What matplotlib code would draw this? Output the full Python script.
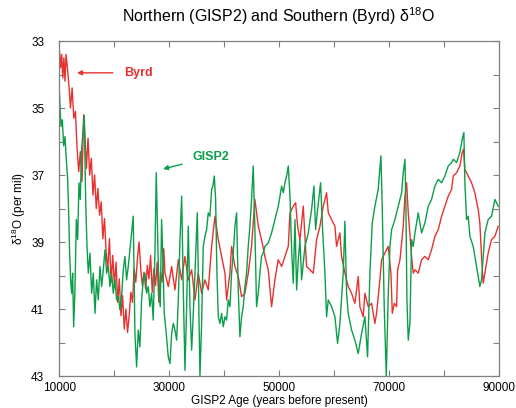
from matplotlib import pyplot as plt
import numpy as np

# GISP2 age (years before present) and d18O (per mil)
byrd_age = [10000, 10200, 10400, 10600, 10800, 11000, 11200, 11500, 11800, 12000,
            12300, 12600, 12900, 13200, 13500, 13800, 14100, 14400, 14600, 14900,
            15200, 15500, 15800, 16100, 16400, 16700, 17000, 17300, 17600, 17900,
            18200, 18500, 18800, 19100, 19400, 19700, 20000, 20300, 20600, 20900,
            21200, 21500, 21800, 22100, 22400, 22700, 23000, 23300, 23600, 23900,
            24200, 24500, 24800, 25100, 25400, 25700, 26000, 26300, 26600, 26900,
            27200, 27500, 27800, 28100, 28400, 28700, 29000, 29222, 29830, 30436,
            31040, 31650, 32257, 32864, 33470, 34080, 34685, 35290, 35900, 36500,
            37110, 37720, 38330, 38930, 39540, 40150, 40450, 41060, 41360, 41970,
            42580, 43180, 43790, 44400, 45000, 45610, 46220, 46820, 47430, 48040,
            48650, 49250, 49860, 50480, 51085, 51690, 52000, 52600, 53030, 53390,
            53820, 54420, 55030, 55640, 56245, 56850, 57460, 58065, 58670, 58980,
            59580, 60190, 60490, 61100, 61400, 62010, 62620, 63225, 63830, 64440,
            64740, 65350, 65650, 66260, 66870, 67470, 67780, 68380, 68690, 69295,
            69900, 70400, 70640, 71005, 71430, 71610, 72040, 72640, 72950, 73250,
            73555, 74160, 74465, 74770, 75375, 75980, 76590, 77200, 77800, 78410,
            79020, 79625, 80230, 80840, 81450, 81750, 82360, 82960, 83390, 83630,
            83870, 84480, 85090, 85690, 86300, 86600, 86910, 87210, 87520, 88120,
            88730, 89340, 89940]
byrd_d18o = [33.3, 33.8, 33.4, 34.1, 33.5, 34.2, 33.4, 33.9, 34.5, 35.0,
             34.4, 35.3, 35.1, 36.2, 36.9, 36.3, 37.2, 35.2, 35.7, 36.8,
             35.9, 37.0, 36.5, 37.6, 37.0, 38.0, 37.4, 38.2, 37.8, 38.9,
             38.3, 39.3, 39.8, 38.9, 40.2, 39.4, 40.3, 39.6, 40.8, 40.1,
             41.2, 40.6, 41.6, 41.0, 41.7, 41.2, 40.5, 40.8, 39.8, 40.2,
             39.5, 39.0, 39.8, 40.3, 39.9, 40.4, 39.7, 40.1, 39.4, 40.5,
             39.8, 40.3, 39.6, 40.8, 39.9, 40.2, 39.2, 39.93, 40.33, 39.73,
             40.43, 39.53, 40.13, 39.43, 40.13, 39.83, 40.73, 39.93, 40.53, 40.13,
             40.43, 39.13, 38.23, 38.93, 39.43, 39.93, 40.73, 39.93, 39.13, 39.73,
             40.03, 40.63, 40.53, 39.93, 39.13, 37.73, 38.53, 38.93, 39.43, 39.83,
             40.93, 40.13, 39.53, 39.73, 39.43, 39.13, 38.13, 37.93, 37.83, 38.53,
             38.93, 37.93, 39.73, 39.83, 39.93, 38.93, 38.53, 37.93, 37.53, 38.13,
             38.33, 38.53, 39.13, 38.73, 39.43, 39.93, 40.33, 40.53, 40.83, 40.03,
             40.93, 41.23, 40.53, 40.93, 40.83, 41.43, 41.13, 40.13, 39.53, 39.33,
             39.13, 39.93, 41.13, 40.83, 40.93, 39.83, 39.53, 38.53, 37.63, 37.23,
             38.13, 39.43, 39.93, 39.83, 39.93, 39.53, 39.43, 39.53, 39.23, 38.83,
             38.63, 38.23, 37.93, 37.63, 37.43, 37.03, 36.93, 36.73, 36.33, 36.23,
             36.83, 37.03, 37.23, 37.53, 38.03, 38.43, 39.43, 40.23, 39.93, 39.33,
             38.93, 38.83, 38.53]

gisp2_age = [10000, 10090, 10270, 10515, 10760, 11000, 11245, 11490, 11670, 11850,
             12030, 12215, 12400, 12580, 12820, 13065, 13310, 13550, 13790, 14035,
             14280, 14520, 14765, 15010, 15250, 15555, 15860, 16160, 16465, 16770,
             17070, 17375, 17680, 17980, 18285, 18590, 18890, 19195, 19500, 19800,
             20105, 20410, 20710, 21015, 21320, 21620, 21925, 22230, 22530, 22835,
             23140, 23440, 23745, 24050, 24355, 24660, 24960, 25265, 25570, 25870,
             26175, 26480, 26780, 27085, 27390, 27630, 27875, 28120, 28360, 28605,
             28850, 29090, 29455, 29820, 30130, 30440, 30740, 31045, 31350, 31650,
             31955, 32260, 32560, 32865, 33170, 33470, 33775, 34080, 34380, 34685,
             35110, 35350, 35595, 35900, 36200, 36505, 36810, 37110, 37415, 37720,
             37960, 38205, 38450, 38690, 38935, 39240, 39540, 39845, 40150, 40450,
             40755, 41060, 41360, 41665, 41970, 42270, 42575, 42880, 43180, 43485,
             43790, 44090, 44395, 44700, 45000, 45305, 45610, 45910, 46215, 46520,
             46820, 47125, 47430, 48040, 48645, 49250, 49870, 50480, 50780, 51085,
             51390, 51690, 52000, 52300, 52600, 52905, 53210, 53515, 53820, 54120,
             54730, 55335, 55940, 56365, 56670, 57035, 57580, 57945, 58370, 58670,
             58975, 59585, 60190, 60675, 61100, 61705, 62010, 62315, 62615, 63225,
             63830, 64440, 65045, 65650, 66140, 66565, 66990, 67475, 68080, 68570,
             68810, 69175, 69550, 69913, 70216, 70520, 71126, 71733, 72340, 72640,
             72950, 73130, 73310, 73555, 73860, 74160, 74465, 74770, 75375, 75980,
             76590, 77200, 77800, 78410, 79020, 79625, 80230, 80840, 81450, 81750,
             82360, 82960, 83390, 83690, 83870, 84180, 84480, 84785, 85390, 86000,
             86605, 86910, 87210, 87520, 88120, 88730, 89340, 89940]
gisp2_d18o = [34.55, 34.95, 35.55, 35.35, 36.13, 35.85, 36.55, 37.13, 38.13, 39.33,
              40.13, 40.53, 39.93, 41.53, 40.43, 38.33, 38.93, 37.23, 37.73, 36.23,
              35.73, 35.23, 37.73, 39.13, 39.93, 39.33, 40.53, 39.93, 41.13, 40.13,
              40.73, 39.73, 40.33, 39.83, 39.23, 39.93, 39.73, 40.33, 39.93, 40.53,
              40.13, 40.73, 40.63, 41.03, 40.63, 39.83, 39.43, 40.13, 39.73, 39.23,
              38.73, 38.23, 41.73, 42.73, 41.63, 42.13, 40.73, 40.13, 39.93, 40.53,
              40.33, 40.93, 40.53, 41.33, 39.33, 36.93, 38.73, 40.53, 40.93, 38.33,
              39.53, 41.13, 41.73, 42.43, 42.63, 41.73, 41.43, 41.63, 41.93, 40.73,
              38.93, 37.63, 40.43, 42.83, 40.93, 38.53, 40.93, 42.23, 41.13, 39.93,
              38.13, 40.53, 43.0, 41.43, 39.13, 38.83, 38.63, 38.13, 38.23, 37.43,
              37.33, 37.03, 37.73, 39.93, 41.23, 41.43, 41.13, 41.53, 41.23, 41.33,
              40.73, 40.93, 39.93, 39.33, 38.53, 38.13, 40.43, 41.83, 41.23, 40.93,
              40.33, 39.93, 39.13, 38.53, 37.73, 36.73, 38.63, 40.93, 40.53, 39.93,
              39.43, 39.33, 39.13, 39.03, 38.73, 38.33, 37.93, 37.33, 37.53, 37.23,
              37.03, 36.73, 37.63, 39.23, 40.23, 38.33, 40.43, 39.53, 38.93, 40.13,
              39.13, 38.73, 38.03, 37.33, 38.63, 38.03, 37.23, 38.63, 39.93, 41.23,
              40.73, 40.93, 41.23, 42.03, 41.43, 39.93, 38.38, 40.53, 41.13, 41.63,
              41.93, 42.33, 41.73, 41.23, 42.43, 39.93, 38.43, 37.93, 37.43, 36.43,
              37.93, 40.93, 43.0, 40.53, 39.13, 38.63, 38.33, 37.93, 37.53, 36.93,
              36.53, 37.93, 40.73, 41.93, 41.43, 38.93, 39.13, 38.73, 38.13, 38.73,
              38.43, 37.93, 37.73, 37.33, 37.13, 37.23, 37.03, 36.73, 36.63, 36.53,
              36.63, 36.33, 35.93, 35.73, 37.23, 38.33, 38.23, 38.83, 39.13, 39.73,
              40.33, 40.13, 39.43, 38.73, 38.33, 38.23, 37.73, 37.93]

red = '#e8312f'
green = '#0b9e4a'
grey = '#7f7f7f'

plt.rcParams['font.family'] = ['Liberation Sans', 'DejaVu Sans']
plt.rcParams['mathtext.default'] = 'regular'

fig = plt.figure(figsize=(5.16, 4.08), dpi=100)
ax = fig.add_axes([0.1153, 0.0784, 0.8508, 0.8211])

ax.plot(byrd_age, byrd_d18o, color=red, lw=1.0)
ax.plot(gisp2_age, gisp2_d18o, color=green, lw=1.0)

ax.set_xlim(10000, 90000)
ax.set_ylim(43, 33)

xt = np.arange(10000, 90001, 10000)
ax.set_xticks(xt)
ax.set_xticklabels([str(v) if (v // 10000) % 2 == 1 else '' for v in xt])
yt = np.arange(33, 44, 1)
ax.set_yticks(yt)
ax.set_yticklabels([str(v) if v % 2 == 1 else '' for v in yt])
ax.tick_params(direction='in', length=4, width=0.8, color=grey, labelsize=8.5,
               top=True, right=True)
ax.tick_params(axis='y', pad=11)
ax.tick_params(axis='x', pad=4)
for s in ax.spines.values():
    s.set_color(grey)
    s.set_linewidth(0.9)

ax.set_title('Northern (GISP2) and Southern (Byrd) δ$^{18}$O', fontsize=11.5, pad=14)
ax.set_xlabel('GISP2 Age (years before present)', fontsize=8.5, labelpad=1)
ax.set_ylabel('δ$^{18}$O (per mil)', fontsize=8.5, labelpad=2)

ax.annotate('Byrd', xy=(13190, 33.95), xytext=(21750, 33.95), color=red,
            fontsize=9, fontweight='bold', va='center', ha='left',
            arrowprops=dict(arrowstyle='-|>', color=red, lw=1.0,
                            shrinkA=6, shrinkB=0, mutation_scale=7))
ax.annotate('GISP2', xy=(28860, 36.82), xytext=(34320, 36.46), color=green,
            fontsize=9, fontweight='bold', va='center', ha='left',
            arrowprops=dict(arrowstyle='-|>', color=green, lw=1.0,
                            shrinkA=6, shrinkB=0, mutation_scale=7))

plt.savefig('out.png', dpi=100)
